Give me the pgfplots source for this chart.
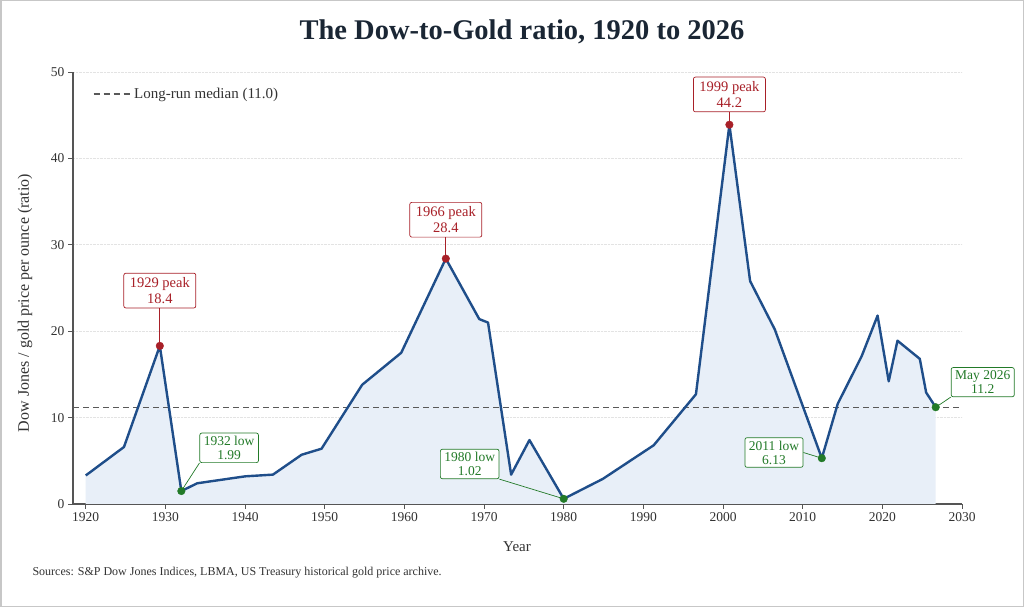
\documentclass[border=0pt]{standalone}
\usepackage{pgfplots}
\pgfplotsset{compat=1.18}
\usepackage{pgfplotstable}
\usepackage{fontspec}
\setmainfont{Liberation Serif}
\definecolor{lineblue}{RGB}{31,78,138}
\definecolor{fillblue}{RGB}{232,239,248}
\definecolor{peakred}{RGB}{168,32,40}
\definecolor{lowgreen}{RGB}{34,122,40}
\definecolor{titlecol}{RGB}{26,38,52}
\definecolor{txt}{RGB}{51,51,51}
\definecolor{axiscol}{RGB}{85,85,85}

\pgfplotstableread{
year ratio
1920.0 3.3
1924.8 6.6
1929.3 18.3
1932.0 1.5
1934.0 2.4
1940.0 3.2
1943.5 3.4
1947.1 5.7
1949.6 6.4
1954.7 13.8
1959.6 17.5
1965.2 28.4
1969.4 21.4
1970.5 21.0
1973.4 3.4
1975.7 7.4
1980.0 0.6
1984.9 2.9
1991.3 6.8
1996.6 12.7
2000.8 43.9
2003.4 25.8
2006.5 20.2
2012.4 5.3
2014.4 11.6
2017.4 17.1
2019.4 21.8
2020.8 14.2
2021.9 18.9
2024.7 16.8
2025.5 12.9
2026.7 11.2
}\ratiotable

\begin{document}
\begin{tikzpicture}
\path[use as bounding box] (0,0) rectangle (1024pt,607pt);
\fill[white] (0,0) rectangle (1024pt,607pt);
\draw[black!22, line width=1.5pt] (0.75pt,0.75pt) rectangle (1023.25pt,606.25pt);

\node[font=\fontsize{28.5}{32}\selectfont\bfseries, text=titlecol] at (522pt,575pt) {The Dow-to-Gold ratio, 1920 to 2026};
\node[font=\fontsize{16}{18}\selectfont, text=txt, rotate=90] at (25pt,304pt) {Dow Jones / gold price per ounce (ratio)};
\node[font=\fontsize{15}{17}\selectfont, text=txt] at (517pt,60pt) {Year};
\node[font=\fontsize{12}{14}\selectfont, text=txt, anchor=west] at (29pt,34pt) {Sources: S\&P Dow Jones Indices, LBMA, US Treasury historical gold price archive.};

\begin{axis}[
  at={(73pt,103pt)}, anchor=south west,
  scale only axis, width=889pt, height=432pt,
  xmin=1918.4, xmax=2030, ymin=0, ymax=50,
  axis lines*=left,
  axis line style={axiscol, line width=1.1pt},
  xtick={1920,1930,...,2030}, ytick={0,10,...,50},
  tick align=outside, major tick length=5pt,
  tick style={axiscol, line width=0.9pt},
  ymajorgrids, grid style={densely dotted, black!11, line width=0.6pt},
  /pgf/number format/assume math mode=true,
  /pgf/number format/set thousands separator={},
  ticklabel style={font=\fontsize{13.5}{15}\selectfont, text=txt},
  clip=false,
  legend style={draw=none, fill=none, at={(0.019,0.949)}, anchor=west,
    font=\fontsize{15}{17}\selectfont, text=txt},
  legend cell align=left,
  legend image code/.code={\draw[#1] (0pt,0pt) -- (38pt,0pt);},
]
\addplot[fill=fillblue, draw=none, forget plot] table[x=year,y=ratio] {\ratiotable} \closedcycle;
\addplot[black!65, line width=1.1pt, dash pattern=on 6pt off 4pt] coordinates {(1918.4,11.2) (2030,11.2)};
\addlegendentry{Long-run median (11.0)}
\addplot[lineblue, line width=2.4pt, line join=round, forget plot] table[x=year,y=ratio] {\ratiotable};
\addplot[only marks, mark=*, mark size=3.8pt, color=peakred, forget plot] coordinates {(1929.3,18.3) (1965.2,28.4) (2000.8,43.9)};
\addplot[only marks, mark=*, mark size=3.8pt, color=lowgreen, forget plot] coordinates {(1932.0,1.5) (1980.0,0.6) (2012.4,5.3) (2026.7,11.2)};

\tikzset{ann/.style={draw=#1, text=#1, fill=white, rounded corners=2pt, align=center,
  font=\fontsize{14.5}{15.5}\selectfont, inner xsep=6pt, inner ysep=4.5pt, line width=0.7pt},
  annl/.style={draw=#1, text=#1, fill=white, rounded corners=2pt, align=center,
  font=\fontsize{13.5}{14}\selectfont, inner xsep=4pt, inner ysep=3pt, line width=0.7pt}}
\node[ann=peakred] (a1) at (axis cs:1929.3,24.7) {1929 peak\\18.4};
\draw[peakred, line width=0.8pt] (a1.south) -- (axis cs:1929.3,18.3);
\node[ann=peakred] (a3) at (axis cs:1965.2,32.9) {1966 peak\\28.4};
\draw[peakred, line width=0.8pt] (a3.south) -- (axis cs:1965.2,28.4);
\node[ann=peakred] (a5) at (axis cs:2000.8,47.4) {1999 peak\\44.2};
\draw[peakred, line width=0.8pt] (a5.south) -- (axis cs:2000.8,43.9);
\node[annl=lowgreen] (a2) at (axis cs:1938.0,6.5) {1932 low\\1.99};
\draw[lowgreen, line width=0.7pt] (a2.south west) -- (axis cs:1932.0,1.5);
\node[annl=lowgreen] (a4) at (axis cs:1968.2,4.63) {1980 low\\1.02};
\draw[lowgreen, line width=0.7pt] (a4.south east) -- (axis cs:1980.0,0.6);
\node[annl=lowgreen] (a6) at (axis cs:2006.4,5.96) {2011 low\\6.13};
\draw[lowgreen, line width=0.7pt] (a6.east) -- (axis cs:2012.4,5.3);
\node[annl=lowgreen] (a7) at (axis cs:2032.6,14.1) {May 2026\\11.2};
\draw[lowgreen, line width=0.7pt] (a7.south west) -- (axis cs:2026.7,11.2);
\end{axis}
\end{tikzpicture}
\end{document}
